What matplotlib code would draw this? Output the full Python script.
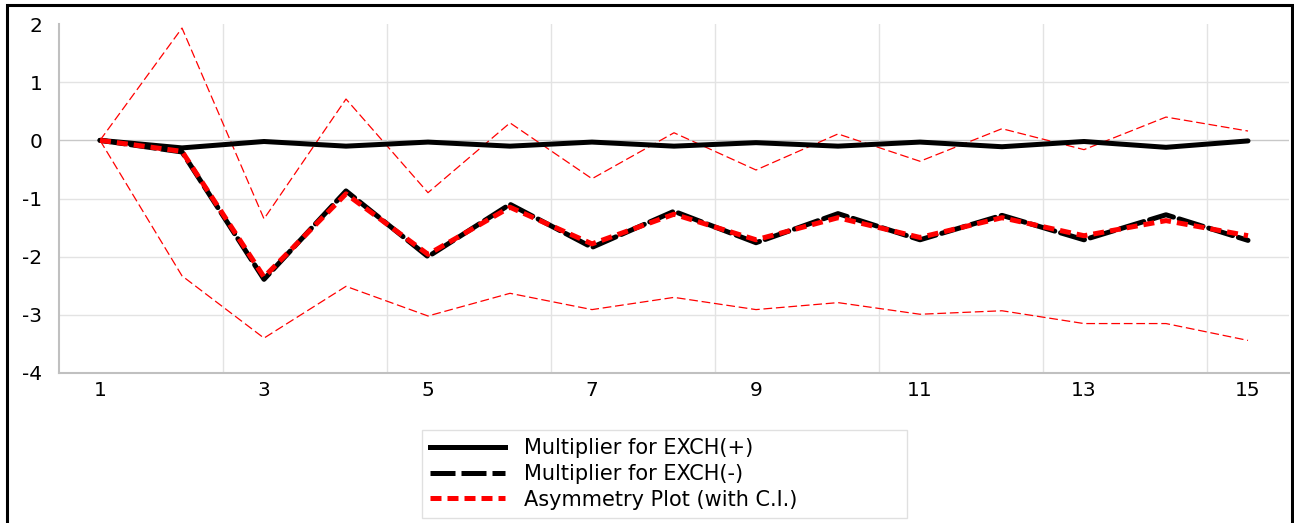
import matplotlib
matplotlib.use("Agg")
import matplotlib.pyplot as plt
from matplotlib.patches import Rectangle
from matplotlib.lines import Line2D

# Horizon (periods) and dynamic multipliers
periods = list(range(1, 16))
exch_pos = [0.0, -0.13, -0.02, -0.10, -0.03, -0.10, -0.03, -0.10, -0.04, -0.10,
            -0.03, -0.11, -0.02, -0.12, -0.01]
exch_neg = [0.0, -0.20, -2.39, -0.87, -2.00, -1.10, -1.84, -1.22, -1.76, -1.26,
            -1.71, -1.29, -1.71, -1.28, -1.72]
asymmetry = [0.0, -0.19, -2.35, -0.92, -1.96, -1.15, -1.78, -1.27, -1.71, -1.33,
             -1.67, -1.33, -1.64, -1.38, -1.64]
ci_upper = [0.0, 1.93, -1.35, 0.71, -0.90, 0.30, -0.66, 0.13, -0.51, 0.11,
            -0.36, 0.20, -0.16, 0.40, 0.16]
ci_lower = [0.0, -2.33, -3.40, -2.51, -3.02, -2.63, -2.91, -2.70, -2.91, -2.79,
            -2.99, -2.93, -3.15, -3.15, -3.44]

xtick_labels = ["1", "3", "5", "7", "9", "11", "13", "15"]
ytick_values = [-4, -3, -2, -1, 0, 1, 2]

legend_labels = ["Multiplier for EXCH(+)", "Multiplier for EXCH(-)",
                 "Asymmetry Plot (with C.I.)"]

plt.rcParams['font.family'] = ['DejaVu Sans']

W, H = 1294, 523
fig = plt.figure(figsize=(W / 100, H / 100), dpi=100)
ax = fig.add_axes([59 / W, 1 - 373 / H, (1289 - 59) / W, (373 - 24) / H])

# Gridlines
for y in ytick_values[1:-1]:
    ax.axhline(y, color="#e3e3e3" if y != 0 else "#c8c8c8", lw=1.0, zorder=0)
for xg in [2.5, 4.5, 6.5, 8.5, 10.5, 12.5, 14.5]:
    ax.axvline(xg, color="#e3e3e3", lw=1.0, zorder=0)

# Confidence bands
ax.plot(periods, ci_upper, color="red", lw=0.9, dashes=(7, 3), zorder=2)
ax.plot(periods, ci_lower, color="red", lw=0.9, dashes=(7, 3), zorder=2)

# Multipliers
ax.plot(periods, exch_pos, color="black", lw=3.6, solid_capstyle="round",
        solid_joinstyle="round", zorder=3)
ax.plot(periods, exch_neg, color="black", lw=3.6, dashes=(5, 1.2),
        dash_capstyle="round", zorder=4)
ax.plot(periods, asymmetry, color="red", lw=3.6, dashes=(2.2, 1.2),
        dash_capstyle="butt", zorder=5)

ax.set_xlim(0.5, 15.5)
ax.set_ylim(-4, 2)
ax.set_xticks([int(t) for t in xtick_labels])
ax.set_xticklabels(xtick_labels)
ax.set_yticks(ytick_values)
ax.set_yticklabels([str(v) for v in ytick_values])
ax.tick_params(length=0, labelsize=14.5, colors="black")
ax.tick_params(axis="y", pad=12)
ax.tick_params(axis="x", pad=6)

for s in ["top", "right"]:
    ax.spines[s].set_visible(False)
for s in ["left", "bottom"]:
    ax.spines[s].set_color("#c0c0c0")
    ax.spines[s].set_linewidth(1.5)

# Legend
handles = [
    Line2D([], [], color="black", lw=3.6),
    Line2D([], [], color="black", lw=3.6, dashes=(5, 1.2)),
    Line2D([], [], color="red", lw=3.6, dashes=(2.2, 1.2)),
]
leg = fig.legend(handles, legend_labels, loc="upper left", mode="expand",
                 bbox_to_anchor=(422 / W, 1 - 430 / H, (907 - 422) / W, 0.0),
                 fontsize=15, frameon=True, fancybox=False,
                 handlelength=3.6, handletextpad=0.9, labelspacing=0.27,
                 borderpad=0.4, borderaxespad=0.0)
leg.get_frame().set_edgecolor("#d9d9d9")
leg.get_frame().set_linewidth(1.0)

# Outer frame
fig.patches.append(Rectangle((7 / W, -0.05), (1292 - 7) / W, 1 - 5 / H + 0.05,
                             transform=fig.transFigure, fill=False,
                             edgecolor="black", lw=2.2, zorder=10))

fig.savefig("out.png", dpi=100)
